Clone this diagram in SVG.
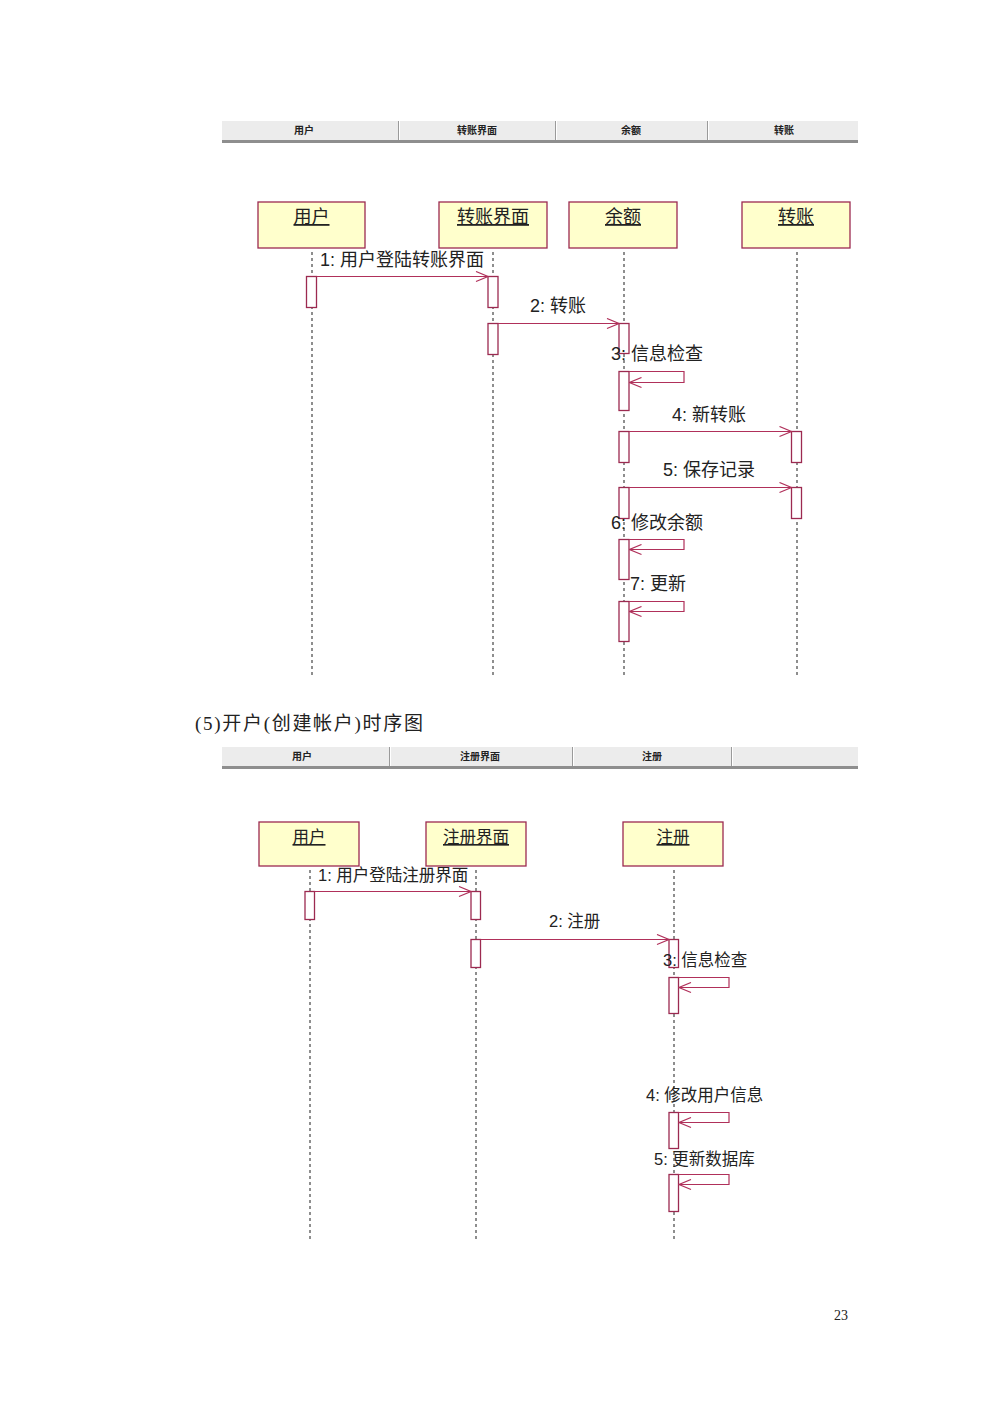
<svg xmlns="http://www.w3.org/2000/svg" width="1000" height="1415" viewBox="0 0 1000 1415">
<defs>
<style>
.hdr{fill:#ececec}
.hdrline{stroke:#8e8e8e;stroke-width:3}
.div{stroke:#9a9a9a;stroke-width:1}
.divh{stroke:#ffffff;stroke-width:1}
.hl{font-family:"Liberation Sans","Noto Sans CJK SC",sans-serif;font-size:10px;font-weight:bold;fill:#222;text-anchor:middle}
.box{fill:#ffffcc;stroke:#9c2a50;stroke-width:1.3}
.bl1{font-family:"Liberation Sans","Noto Sans CJK SC",sans-serif;font-size:18px;fill:#222;text-anchor:middle;text-decoration:underline}
.bl2{font-family:"Liberation Sans","Noto Sans CJK SC",sans-serif;font-size:16.5px;fill:#222;text-anchor:middle;text-decoration:underline}
.life{stroke:#444;stroke-width:1.2;stroke-dasharray:3,3;fill:none}
.act{fill:#ffffff;stroke:#9c2a50;stroke-width:1.3}
.msg{stroke:#b0305a;stroke-width:1.2;fill:none;marker-end:url(#arr)}
.ml1{font-family:"Liberation Sans","Noto Sans CJK SC",sans-serif;font-size:18px;fill:#222}
.ml2{font-family:"Liberation Sans","Noto Sans CJK SC",sans-serif;font-size:16.5px;fill:#222}
</style>
<marker id="arr" markerWidth="14" markerHeight="12" refX="13" refY="6" orient="auto" markerUnits="userSpaceOnUse">
<path d="M1,1 L13,6 L1,11" fill="none" stroke="#b0305a" stroke-width="1.2"/>
</marker>
</defs>
<rect width="1000" height="1415" fill="#ffffff"/>

<!-- Diagram 1 header -->
<g id="header1">
<rect class="hdr" x="222" y="121" width="636" height="19"/>
<line class="hdrline" x1="222" y1="141.5" x2="858" y2="141.5"/>
<line class="div" x1="398.5" y1="121" x2="398.5" y2="140"/>
<line class="divh" x1="399.5" y1="121" x2="399.5" y2="140"/>
<line class="div" x1="555.5" y1="121" x2="555.5" y2="140"/>
<line class="divh" x1="556.5" y1="121" x2="556.5" y2="140"/>
<line class="div" x1="707.5" y1="121" x2="707.5" y2="140"/>
<line class="divh" x1="708.5" y1="121" x2="708.5" y2="140"/>
<text class="hl" x="304" y="134">用户</text>
<text class="hl" x="477" y="134">转账界面</text>
<text class="hl" x="631" y="134">余额</text>
<text class="hl" x="784" y="134">转账</text>
</g>

<g id="d1-user">
<rect class="box" x="258" y="202" width="107" height="46"/>
<text class="bl1" x="311.5" y="223">用户</text>
<line class="life" x1="312" y1="252" x2="312" y2="675"/>
<rect class="act" x="306.5" y="276.5" width="10" height="31"/>
</g>
<g id="d1-ui">
<rect class="box" x="439" y="202" width="108" height="46"/>
<text class="bl1" x="493" y="223">转账界面</text>
<line class="life" x1="493" y1="252" x2="493" y2="675"/>
<rect class="act" x="488" y="276.5" width="10" height="31"/>
<rect class="act" x="488" y="323.5" width="10" height="31"/>
</g>
<g id="d1-balance">
<rect class="box" x="569" y="202" width="108" height="46"/>
<text class="bl1" x="623" y="223">余额</text>
<line class="life" x1="624" y1="252" x2="624" y2="675"/>
<rect class="act" x="619" y="323.5" width="10" height="30"/>
<rect class="act" x="619" y="371.5" width="10" height="39"/>
<rect class="act" x="619" y="431.5" width="10" height="31"/>
<rect class="act" x="619" y="487.5" width="10" height="31"/>
<rect class="act" x="619" y="539.5" width="10" height="40"/>
<rect class="act" x="619" y="601.5" width="10" height="40"/>
</g>
<g id="d1-transfer">
<rect class="box" x="742" y="202" width="108" height="46"/>
<text class="bl1" x="796" y="223">转账</text>
<line class="life" x1="797" y1="252" x2="797" y2="675"/>
<rect class="act" x="791.5" y="431.5" width="10" height="31"/>
<rect class="act" x="791.5" y="487.5" width="10" height="31"/>
</g>

<g id="d1-connectors">
<line class="msg" x1="316.5" y1="276.5" x2="488" y2="276.5"/>
<line class="msg" x1="498" y1="323.5" x2="619" y2="323.5"/>
<polyline class="msg" points="629,371.5 684,371.5 684,382.5 629.5,382.5"/>
<line class="msg" x1="629" y1="431.5" x2="791.5" y2="431.5"/>
<line class="msg" x1="629" y1="487.5" x2="791.5" y2="487.5"/>
<polyline class="msg" points="629,539.5 684,539.5 684,549.5 629.5,549.5"/>
<polyline class="msg" points="629,601.5 684,601.5 684,611.5 629.5,611.5"/>
<text class="ml1" x="320" y="266">1: 用户登陆转账界面</text>
<text class="ml1" x="530" y="312">2: 转账</text>
<text class="ml1" x="611" y="360">3: 信息检查</text>
<text class="ml1" x="672" y="421">4: 新转账</text>
<text class="ml1" x="663" y="476">5: 保存记录</text>
<text class="ml1" x="611" y="529">6: 修改余额</text>
<text class="ml1" x="630" y="590">7: 更新</text>
</g>

<text id="title" x="195" y="730" font-family="Liberation Serif,Noto Sans CJK SC,serif" font-size="19" fill="#222" textLength="228" lengthAdjust="spacing">(5)开户(创建帐户)时序图</text>

<!-- Diagram 2 header -->
<g id="header2">
<rect class="hdr" x="222" y="747" width="636" height="19"/>
<line class="hdrline" x1="222" y1="767.5" x2="858" y2="767.5"/>
<line class="div" x1="389.5" y1="747" x2="389.5" y2="766"/>
<line class="divh" x1="390.5" y1="747" x2="390.5" y2="766"/>
<line class="div" x1="572.5" y1="747" x2="572.5" y2="766"/>
<line class="divh" x1="573.5" y1="747" x2="573.5" y2="766"/>
<line class="div" x1="731.5" y1="747" x2="731.5" y2="766"/>
<line class="divh" x1="732.5" y1="747" x2="732.5" y2="766"/>
<text class="hl" x="302" y="760">用户</text>
<text class="hl" x="480" y="760">注册界面</text>
<text class="hl" x="652" y="760">注册</text>
</g>

<g id="d2-user">
<rect class="box" x="259" y="822" width="100" height="44"/>
<text class="bl2" x="309" y="843">用户</text>
<line class="life" x1="310" y1="870" x2="310" y2="1240"/>
<rect class="act" x="305" y="891.5" width="9.5" height="28"/>
</g>
<g id="d2-ui">
<rect class="box" x="426" y="822" width="100" height="44"/>
<text class="bl2" x="476" y="843">注册界面</text>
<line class="life" x1="476" y1="870" x2="476" y2="1240"/>
<rect class="act" x="471" y="891.5" width="9.5" height="28"/>
<rect class="act" x="471" y="939.5" width="9.5" height="28"/>
</g>
<g id="d2-register">
<rect class="box" x="623" y="822" width="100" height="44"/>
<text class="bl2" x="673" y="843">注册</text>
<line class="life" x1="674" y1="870" x2="674" y2="1240"/>
<rect class="act" x="669" y="939.5" width="9.5" height="28"/>
<rect class="act" x="669" y="977.5" width="9.5" height="36"/>
<rect class="act" x="669" y="1112.5" width="9.5" height="36"/>
<rect class="act" x="669" y="1174.5" width="9.5" height="37"/>
</g>

<g id="d2-connectors">
<line class="msg" x1="314.5" y1="891.5" x2="471" y2="891.5"/>
<line class="msg" x1="480.5" y1="939.5" x2="669" y2="939.5"/>
<polyline class="msg" points="678.5,977.5 729,977.5 729,987.5 679,987.5"/>
<polyline class="msg" points="678.5,1112.5 729,1112.5 729,1122.5 679,1122.5"/>
<polyline class="msg" points="678.5,1174.5 729,1174.5 729,1184.5 679,1184.5"/>
<text class="ml2" x="318" y="881">1: 用户登陆注册界面</text>
<text class="ml2" x="549" y="927">2: 注册</text>
<text class="ml2" x="663" y="966">3: 信息检查</text>
<text class="ml2" x="646" y="1101">4: 修改用户信息</text>
<text class="ml2" x="654" y="1165">5: 更新数据库</text>
</g>

<text id="page" x="834" y="1320" font-family="Liberation Serif,serif" font-size="14" fill="#222">23</text>
</svg>
